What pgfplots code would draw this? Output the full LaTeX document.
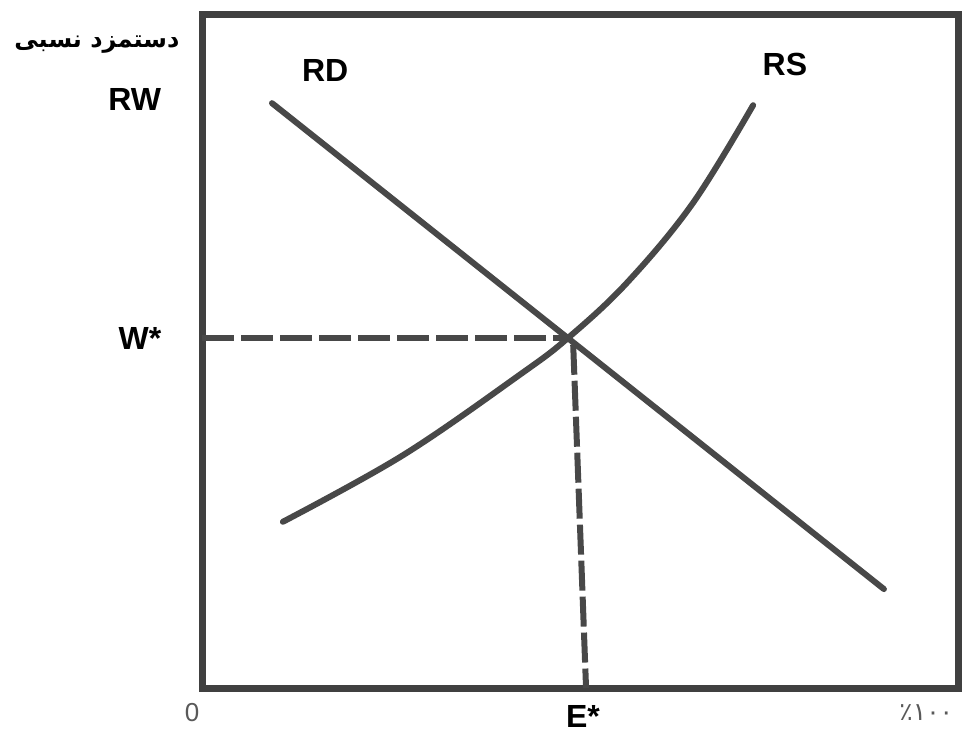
\documentclass[border=0pt]{standalone}
\usepackage{pgfplots}
\pgfplotsset{compat=1.18}
\usepackage{fontspec}
\setmainfont{Liberation Sans}
\newfontfamily\farsi[Script=Arabic]{DejaVu Sans}
\TeXXeTstate=1

\definecolor{ink}{RGB}{72,72,72}
\definecolor{frame}{RGB}{64,64,64}

% demand (RD) and supply (RS) curves
\pgfplotstableread{
x y
9.26 86.9
90.2 14.7
}\rdtable
\pgfplotstableread{
x y
10.7 24.7
26.6 34.6
42.1 46.6
48.4 52.0
56.2 60.2
64.9 72.0
72.9 86.6
}\rstable

\begin{document}
\begin{tikzpicture}
\begin{axis}[
    scale only axis,
    width=378pt, height=336.5pt,
    xmin=0, xmax=100, ymin=0, ymax=100,
    ticks=none,
    clip=false,
    axis line style={line width=3.5pt, color=frame, line join=miter},
    every node/.style={text=black!85},
]
    \addplot[ink, line width=3pt, line cap=round] table[x=x, y=y] {\rdtable};
    \addplot[ink, line width=3pt, line cap=round, smooth, tension=0.6] table[x=x, y=y] {\rstable};
    % guide lines to the equilibrium
    \addplot[ink, line width=3pt, dash pattern=on 16pt off 3.5pt] coordinates {(0,52.0) (48.4,52.0)};
    \addplot[ink, line width=3pt, dash pattern=on 15pt off 3pt] coordinates {(49.1,51.0) (50.8,0)};

    \node[font=\farsi\fontsize{12}{14}\selectfont\bfseries] at (axis cs:-13.9,95.6) {\beginR دستمزد نسبی\endR};
    \node[font=\fontsize{16}{18}\selectfont\bfseries] at (axis cs:-8.9,87.4) {RW};
    \node[font=\fontsize{16}{18}\selectfont\bfseries] at (axis cs:-8.2,52.0) {W*};
    \node[font=\fontsize{16}{18}\selectfont\bfseries] at (axis cs:16.3,91.8) {RD};
    \node[font=\fontsize{16}{18}\selectfont\bfseries] at (axis cs:77.1,92.6) {RS};
    \node[font=\fontsize{13}{15}\selectfont, text=black!65] at (axis cs:-1.3,-3.6) {0};
    \node[font=\fontsize{16}{18}\selectfont\bfseries] at (axis cs:50.4,-4.2) {E*};
    \node[font=\farsi\fontsize{12.5}{14}\selectfont, text=black!65] at (axis cs:95.8,-3.6) {٪۱۰۰};

    \coordinate (bbA) at (axis cs:-26.72,-7.13);
    \coordinate (bbB) at (axis cs:101.19,102.23);
\end{axis}
\pgfresetboundingbox
\path[use as bounding box] (bbA) rectangle (bbB);
\end{tikzpicture}
\end{document}
